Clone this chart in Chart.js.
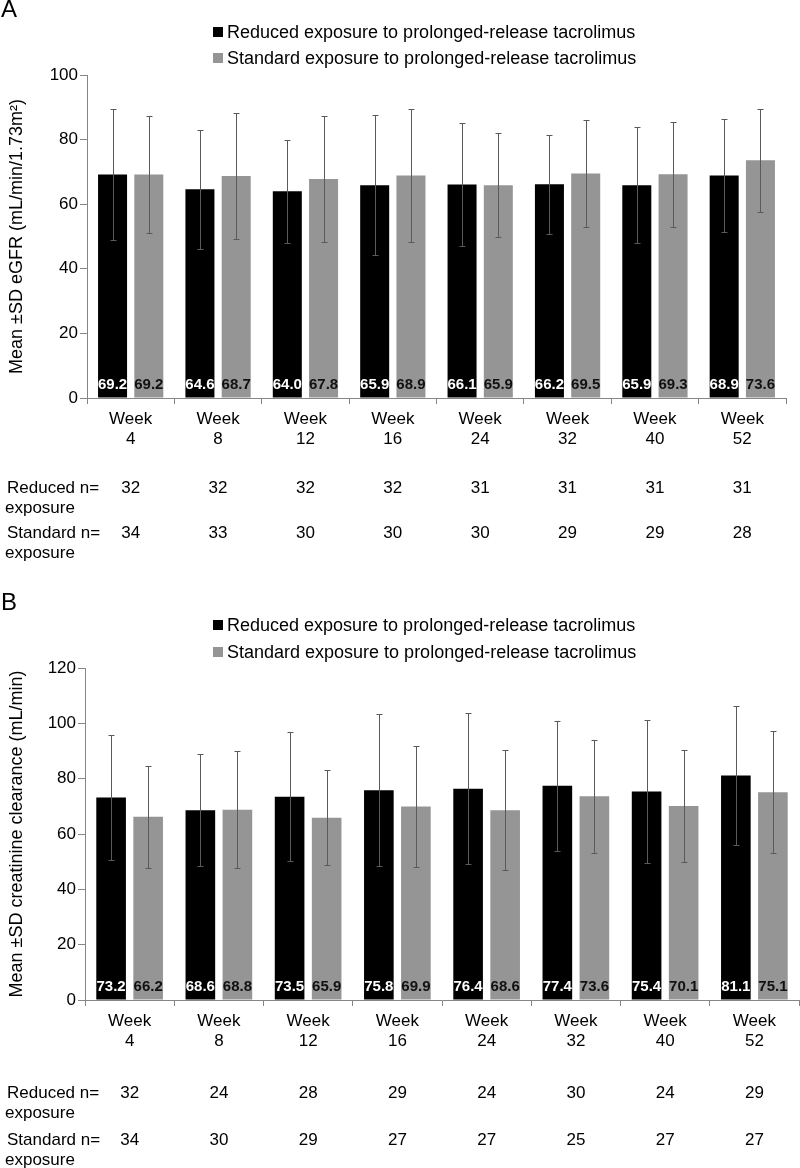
<!DOCTYPE html>
<html>
<head>
<meta charset="utf-8">
<script src="https://cdn.jsdelivr.net/npm/chart.js@4.4.1/dist/chart.umd.min.js"></script>
<style>
    body { margin: 0; background: #ffffff; }
    .panel { position: relative; width: 800px; height: 584px; }
</style>
</head>
<body>
<div class="panel"><canvas id="chart_a" width="800" height="584"></canvas></div>
<div class="panel"><canvas id="chart_b" width="800" height="584"></canvas></div>
<script>
// Week labels shared by both panels
const weekLabels = ['4', '8', '12', '16', '24', '32', '40', '52'];

// Panel A - eGFR
const egfrReduced = [69.2, 64.6, 64.0, 65.9, 66.1, 66.2, 65.9, 68.9];
const egfrStandard = [69.2, 68.7, 67.8, 68.9, 65.9, 69.5, 69.3, 73.6];
const egfrReducedSD = [20.3, 18.4, 16.0, 21.6, 19.0, 15.3, 18.0, 17.4];
const egfrStandardSD = [18.0, 19.6, 19.5, 20.7, 16.0, 16.7, 16.3, 16.0];
const egfrReducedN = [32, 32, 32, 32, 31, 31, 31, 31];
const egfrStandardN = [34, 33, 30, 30, 30, 29, 29, 28];

// Panel B - creatinine clearance
const crclReduced = [73.2, 68.6, 73.5, 75.8, 76.4, 77.4, 75.4, 81.1];
const crclStandard = [66.2, 68.8, 65.9, 69.9, 68.6, 73.6, 70.1, 75.1];
const crclReducedSD = [22.5, 20.3, 23.4, 27.5, 27.2, 23.4, 25.9, 25.1];
const crclStandardSD = [18.5, 21.1, 17.1, 21.9, 21.6, 20.5, 20.3, 22.0];
const crclReducedN = [32, 24, 28, 29, 24, 30, 24, 29];
const crclStandardN = [34, 30, 29, 27, 27, 25, 27, 27];

const legendLabels = [
    'Reduced exposure to prolonged-release tacrolimus',
    'Standard exposure to prolonged-release tacrolimus'
];

const FONT = '"Liberation Sans", Arial, sans-serif';
const BLACK = '#000000';
const GREY = '#959595';
const AXIS = '#868686';

Chart.defaults.font.family = FONT;
Chart.defaults.color = '#000000';

// Draws letter, legend, error bars, value labels and the n= table
function makeOverlay(cfg) {
    return {
        id: 'overlay',
        afterDatasetsDraw(chart) {
            const ctx = chart.ctx;
            const area = chart.chartArea;
            const xScale = chart.scales.x;
            const yScale = chart.scales.y;

            ctx.save();

            // error bars
            ctx.strokeStyle = '#5a5a5a';
            ctx.lineWidth = 1;
            chart.data.datasets.forEach((ds, i) => {
                const meta = chart.getDatasetMeta(i);
                meta.data.forEach((bar, j) => {
                    const x = Math.round(bar.x) + 0.5;
                    const top = Math.round(yScale.getPixelForValue(ds.data[j] + ds.sd[j])) + 0.5;
                    const bot = Math.round(yScale.getPixelForValue(ds.data[j] - ds.sd[j])) + 0.5;
                    ctx.beginPath();
                    ctx.moveTo(x, top); ctx.lineTo(x, bot);
                    ctx.moveTo(x - 3, top); ctx.lineTo(x + 3, top);
                    ctx.moveTo(x - 3, bot); ctx.lineTo(x + 3, bot);
                    ctx.stroke();
                });
            });

            // value labels at the bottom of each bar
            ctx.font = 'bold 15px ' + FONT;
            ctx.textAlign = 'center';
            ctx.textBaseline = 'middle';
            chart.data.datasets.forEach((ds, i) => {
                const meta = chart.getDatasetMeta(i);
                ctx.fillStyle = ds.labelColor;
                meta.data.forEach((bar, j) => {
                    ctx.fillText(ds.data[j].toFixed(1), bar.x, area.bottom - 13);
                });
            });

            // panel letter
            ctx.font = '24px ' + FONT;
            ctx.textAlign = 'left';
            ctx.fillStyle = '#000';
            ctx.fillText(cfg.letter, 1, cfg.letterY);

            // legend
            ctx.font = '18px ' + FONT;
            chart.data.datasets.forEach((ds, i) => {
                const y = cfg.legendY[i];
                ctx.fillStyle = ds.backgroundColor;
                ctx.fillRect(213, y - 5, 10, 10);
                ctx.fillStyle = '#000';
                ctx.fillText(legendLabels[i], 227, y + 1);
            });

            // n= table
            ctx.font = '17px ' + FONT;
            ctx.textAlign = 'left';
            const rows = cfg.tableY;
            ctx.fillText('Reduced n=', 7, rows[0]);
            ctx.fillText('exposure', 5, rows[0] + 20);
            ctx.fillText('Standard n=', 7, rows[1]);
            ctx.fillText('exposure', 5, rows[1] + 20);
            ctx.textAlign = 'center';
            cfg.nValues.forEach((arr, r) => {
                arr.forEach((n, j) => {
                    ctx.fillText(String(n), xScale.getPixelForValue(j), rows[r]);
                });
            });

            ctx.restore();
        }
    };
}

function createPanel(id, cfg) {
    const ctx = document.getElementById(id);
    new Chart(ctx.getContext('2d'), {
        type: 'bar',
        data: {
            labels: weekLabels.map(w => ['Week', w]),
            datasets: [
                {
                    label: legendLabels[0],
                    data: cfg.reduced,
                    sd: cfg.reducedSD,
                    backgroundColor: BLACK,
                    labelColor: '#ffffff',
                    categoryPercentage: 0.83,
                    barPercentage: 0.8
                },
                {
                    label: legendLabels[1],
                    data: cfg.standard,
                    sd: cfg.standardSD,
                    backgroundColor: GREY,
                    labelColor: '#111111',
                    categoryPercentage: 0.83,
                    barPercentage: 0.8
                }
            ]
        },
        options: {
            responsive: false,
            animation: false,
            layout: {
                padding: { left: 0, right: cfg.padRight, top: cfg.padTop, bottom: 0 }
            },
            plugins: {
                legend: { display: false },
                tooltip: { enabled: false }
            },
            scales: {
                x: {
                    offset: true,
                    afterFit: function (scale) { scale.height = cfg.xHeight; },
                    grid: {
                        offset: true,
                        drawOnChartArea: false,
                        tickLength: 6,
                        color: AXIS
                    },
                    border: { color: AXIS, width: 1 },
                    ticks: {
                        font: { size: 17 },
                        color: '#000',
                        padding: 5,
                        maxRotation: 0
                    }
                },
                y: {
                    min: 0,
                    max: cfg.yMax,
                    afterFit: function (scale) { scale.width = cfg.yWidth; },
                    grid: {
                        drawOnChartArea: false,
                        tickLength: 7,
                        color: AXIS
                    },
                    border: { color: AXIS, width: 1 },
                    ticks: {
                        stepSize: 20,
                        font: { size: 17 },
                        color: '#000',
                        padding: 2
                    },
                    title: {
                        display: true,
                        text: cfg.yTitle,
                        font: { size: 18 },
                        color: '#000',
                        padding: { top: 6, bottom: 0 }
                    }
                }
            }
        },
        plugins: [makeOverlay(cfg)]
    });
}

document.addEventListener('DOMContentLoaded', function () {
    createPanel('chart_a', {
        letter: 'A', letterY: 10,
        legendY: [32, 58],
        tableY: [488, 533],
        nValues: [egfrReducedN, egfrStandardN],
        reduced: egfrReduced, standard: egfrStandard,
        reducedSD: egfrReducedSD, standardSD: egfrStandardSD,
        yMax: 100,
        yTitle: 'Mean \u00B1SD eGFR (mL/min/1.73m\u00B2)',
        padTop: 75, padRight: 14, xHeight: 186, yWidth: 87
    });
    createPanel('chart_b', {
        letter: 'B', letterY: 19,
        legendY: [41, 68],
        tableY: [509, 556],
        nValues: [crclReducedN, crclStandardN],
        reduced: crclReduced, standard: crclStandard,
        reducedSD: crclReducedSD, standardSD: crclStandardSD,
        yMax: 120,
        yTitle: 'Mean \u00B1SD creatinine clearance (mL/min)',
        padTop: 84, padRight: 1, xHeight: 168, yWidth: 85
    });
});
</script>
</body>
</html>
